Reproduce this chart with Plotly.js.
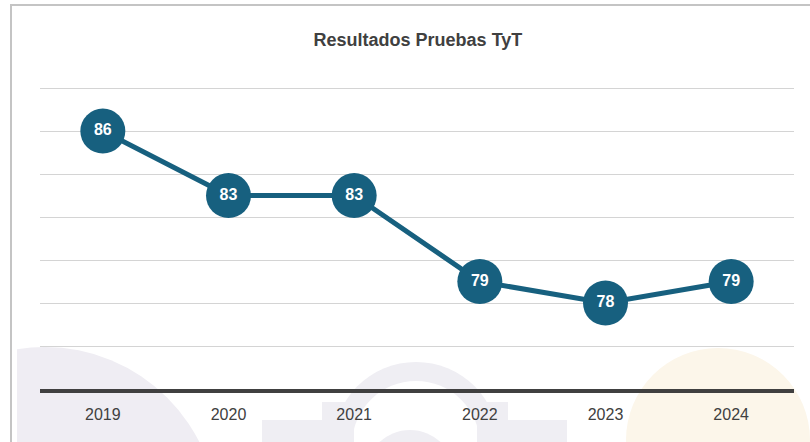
<!DOCTYPE html>
<html>
<head>
<meta charset="utf-8">
<script src="https://cdn.plot.ly/plotly-3.0.1.min.js"></script>
<style>
  html, body { margin: 0; padding: 0; background: #ffffff; }
  #wrap { position: relative; width: 810px; height: 442px; overflow: hidden; background: #ffffff; }
  #bg { position: absolute; left: 0; top: 0; }
  #chart { position: absolute; left: 0; top: 0; width: 810px; height: 442px; }
</style>
</head>
<body>
<div id="wrap">
  <svg id="bg" width="810" height="442" xmlns="http://www.w3.org/2000/svg">
    <defs>
      <clipPath id="clipL"><rect x="17" y="0" width="793" height="442"/></clipPath>
    </defs>
    <!-- faint watermark shapes -->
    <circle cx="45" cy="520" r="173" fill="#efedf3" clip-path="url(#clipL)"/>
    <circle cx="416" cy="445" r="83" fill="#efeef3"/>
    <circle cx="416" cy="445" r="64" fill="#ffffff"/>
    <rect x="322" y="402" width="32" height="40" fill="#efeef3"/>
    <rect x="262" y="420" width="92" height="22" fill="#efeef3"/>
    <rect x="477" y="402" width="31" height="40" fill="#efeef3"/>
    <rect x="477" y="420" width="90" height="22" fill="#efeef3"/>
    <circle cx="410" cy="475" r="45" fill="#efeef3"/>
    <circle cx="718" cy="440" r="92" fill="#fcf6ea"/>
    <!-- frame -->
    <line x1="10" y1="5" x2="810" y2="5" stroke="#c4c4c4" stroke-width="2"/>
    <line x1="11" y1="4" x2="11" y2="442" stroke="#c4c4c4" stroke-width="2"/>
  </svg>
  <div id="chart"></div>
</div>
<script>
const years = ['2019', '2020', '2021', '2022', '2023', '2024'];
const results = [86, 83, 83, 79, 78, 79];
const resultLabels = results.map(v => String(v));

const mainColor = '#17607f';

const trace = {
  type: 'scatter',
  mode: 'lines+markers+text',
  x: years,
  y: results,
  text: resultLabels,
  textposition: 'middle center',
  textfont: { family: 'Liberation Sans, Arial, sans-serif', size: 16, color: '#ffffff', weight: 'bold' },
  line: { color: mainColor, width: 5 },
  marker: { size: 45, color: mainColor, line: { width: 0 } },
  cliponaxis: false,
  hoverinfo: 'skip'
};

const layout = {
  width: 810,
  height: 442,
  margin: { l: 40, r: 16, t: 87, b: 53, pad: 0 },
  paper_bgcolor: 'rgba(0,0,0,0)',
  plot_bgcolor: 'rgba(0,0,0,0)',
  showlegend: false,
  title: {
    text: 'Resultados Pruebas TyT',
    font: { family: 'Liberation Sans, Arial, sans-serif', size: 18, color: '#404040', weight: 'bold' },
    x: 0.516, xanchor: 'center', xref: 'container',
    y: 1 - 40 / 442, yanchor: 'middle', yref: 'container'
  },
  xaxis: {
    type: 'category',
    range: [-0.5, 5.5],
    showgrid: false,
    zeroline: false,
    showline: true,
    linecolor: '#404040',
    linewidth: 4,
    ticks: '',
    ticklabelstandoff: 8,
    tickfont: { family: 'Liberation Sans, Arial, sans-serif', size: 16, color: '#404040' },
    fixedrange: true
  },
  yaxis: {
    range: [74, 88.05],
    dtick: 2,
    tick0: 74,
    showgrid: true,
    gridcolor: '#d4d4d4',
    gridwidth: 1,
    zeroline: false,
    showline: false,
    showticklabels: false,
    ticks: '',
    fixedrange: true
  }
};

Plotly.newPlot('chart', [trace], layout, { displayModeBar: false, staticPlot: true });
</script>
</body>
</html>
